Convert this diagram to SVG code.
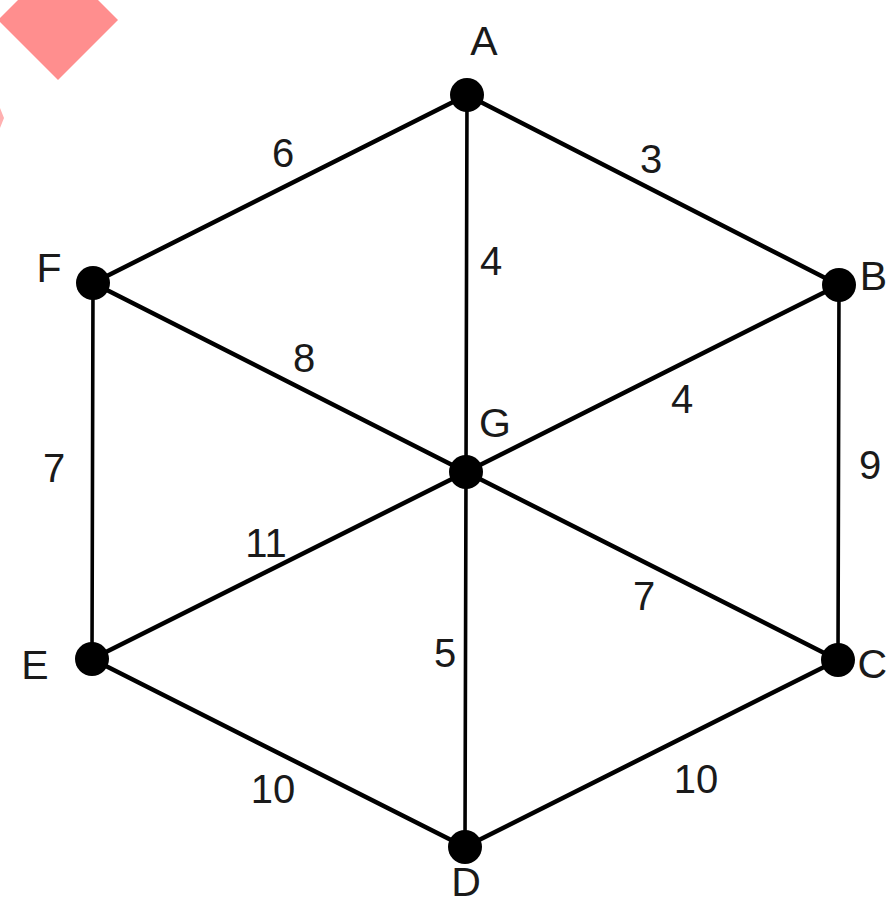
<svg xmlns="http://www.w3.org/2000/svg" width="889" height="906" viewBox="0 0 889 906">
<style>
.edge{stroke:#000;stroke-width:4.5;stroke-linecap:round;fill:none}
.vert{stroke-width:3.6}
.node{fill:#000}
.lbl{font-family:"Liberation Sans",Arial,sans-serif;font-size:41px;fill:#1a1a1a;text-anchor:middle}
.w{font-family:"Liberation Sans",Arial,sans-serif;font-size:40px;fill:#1a1a1a;text-anchor:middle}
.end{text-anchor:end}
</style>
<rect width="889" height="906" fill="#fff"/>
<polygon points="58,-40 118,20 58,80 -2,20" fill="#ff8e8e"/>
<polygon points="0,108 4,118 0,128" fill="#ffb0b0"/>
<g id="connectors">
<line class="edge" x1="467" y1="95" x2="93" y2="283"/>
<line class="edge" x1="467" y1="95" x2="839" y2="285"/>
<line class="edge vert" x1="467" y1="95" x2="466" y2="472"/>
<line class="edge" x1="93" y1="283" x2="466" y2="472"/>
<line class="edge" x1="839" y1="285" x2="466" y2="472"/>
<line class="edge vert" x1="93" y1="283" x2="92" y2="659"/>
<line class="edge vert" x1="839" y1="285" x2="838" y2="660"/>
<line class="edge" x1="92" y1="659" x2="466" y2="472"/>
<line class="edge" x1="838" y1="660" x2="466" y2="472"/>
<line class="edge vert" x1="466" y1="472" x2="465" y2="847"/>
<line class="edge" x1="92" y1="659" x2="465" y2="847"/>
<line class="edge" x1="838" y1="660" x2="465" y2="847"/>
<text class="w" x="283" y="167">6</text>
<text class="w" x="651" y="173">3</text>
<text class="w" x="491" y="275">4</text>
<text class="w" x="304" y="372">8</text>
<text class="w" x="682" y="413">4</text>
<text class="w" x="54" y="482">7</text>
<text class="w" x="870" y="479">9</text>
<text class="w" x="266" y="557">11</text>
<text class="w" x="644" y="610">7</text>
<text class="w" x="445" y="667">5</text>
<text class="w" x="273" y="803">10</text>
<text class="w" x="696" y="793">10</text>
</g>
<g id="node-A"><circle class="node" cx="467" cy="95" r="17"/><text class="lbl" x="484" y="55">A</text></g>
<g id="node-B"><circle class="node" cx="839" cy="285" r="17"/><text class="lbl end" x="887" y="290">B</text></g>
<g id="node-C"><circle class="node" cx="838" cy="660" r="17"/><text class="lbl end" x="887" y="678">C</text></g>
<g id="node-D"><circle class="node" cx="465" cy="847" r="17"/><text class="lbl" x="466" y="896" font-size="38">D</text></g>
<g id="node-E"><circle class="node" cx="92" cy="659" r="17"/><text class="lbl" x="35" y="679">E</text></g>
<g id="node-F"><circle class="node" cx="93" cy="283" r="17"/><text class="lbl" x="49" y="282">F</text></g>
<g id="node-G"><circle class="node" cx="466" cy="472" r="17"/><text class="lbl" x="495" y="437">G</text></g>
</svg>
